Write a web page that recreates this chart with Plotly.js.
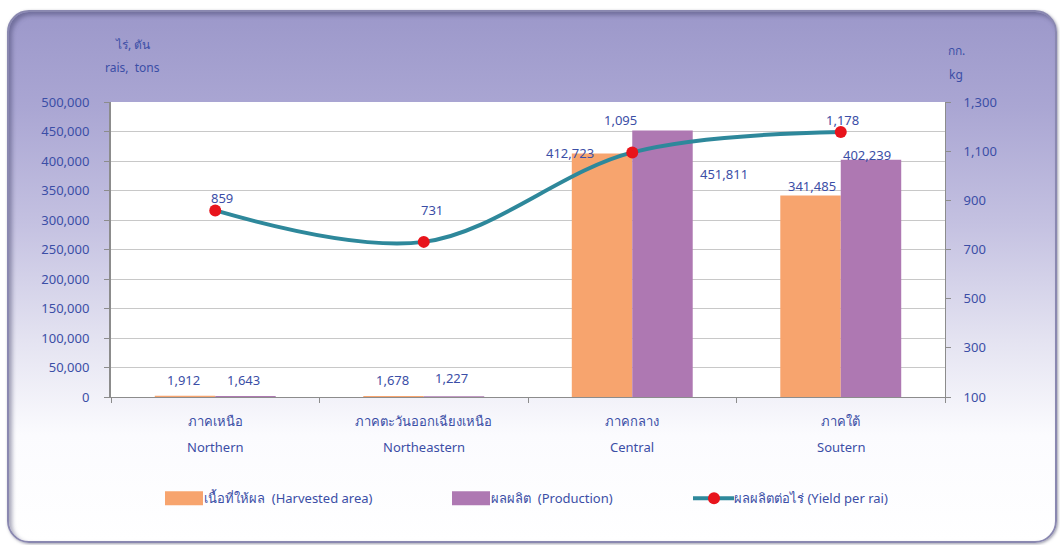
<!DOCTYPE html>
<html>
<head>
<meta charset="utf-8">
<script src="https://cdn.plot.ly/plotly-3.0.1.min.js"></script>
<style>
  html, body { margin: 0; padding: 0; width: 1060px; height: 545px; background: #ffffff; overflow: hidden; }
  #frame {
    position: absolute; left: 7px; top: 10px; width: 1046px; height: 529px;
    border-radius: 22px;
    border: 2px solid #8a88b0;
    background: linear-gradient(to bottom, #9c98ca 0%, #aaa6d3 18%, #c4c1e1 40%, #e4e3f1 62%, #fbfbfe 80%, #ffffff 100%);
    box-shadow: inset 3px 3px 4px rgba(60,60,100,0.45), 1px 1px 3px rgba(60,60,90,0.5);
  }
  #chart { position: absolute; left: 0; top: 0; width: 1060px; height: 545px; }
</style>
</head>
<body>
<div id="frame"></div>
<div id="chart"></div>
<script>
// ---- data ----
const categoriesThai = ['ภาคเหนือ', 'ภาคตะวันออกเฉียงเหนือ', 'ภาคกลาง', 'ภาคใต้'];
const categoriesEng = ['Northern', 'Northeastern', 'Central', 'Soutern'];
const harvestedArea = [1912, 1678, 412723, 341485];
const production = [1643, 1227, 451811, 402239];
const yieldPerRai = [859, 731, 1095, 1178];
const seriesNames = ['เนื้อที่ให้ผล  (Harvested area)', 'ผลผลิต  (Production)', 'ผลผลิตต่อไร่ (Yield per rai)'];

// ---- style ----
const FONT = 'Tahoma, "Noto Sans", "Liberation Sans", "DejaVu Sans", sans-serif';
const TXT = '#3b4ea6';
const fmt = v => v.toLocaleString('en-US');

// label offsets (pixels) relative to each mark
const harvOff = [[-32, 16], [-31, 16], [-62, 0], [-29, 10]];
const prodOff = [[28, 16], [28, 18], [92, -44], [26, 5]];
const yieldOff = [[7, 12], [8, 32], [-12, 32], [2, 12]];
// legend swatch left edges (px)
const legendLeft = [165, 452, 693];

const traces = [
  {
    type: 'bar', name: seriesNames[0], x: categoriesThai, y: harvestedArea,
    marker: { color: '#f7a46e' }, yaxis: 'y', hoverinfo: 'skip'
  },
  {
    type: 'bar', name: seriesNames[1], x: categoriesThai, y: production,
    marker: { color: '#ae78b2' }, yaxis: 'y', hoverinfo: 'skip'
  },
  {
    type: 'scatter', mode: 'lines+markers', name: seriesNames[2], x: categoriesThai, y: yieldPerRai,
    yaxis: 'y2', line: { color: '#2e889b', width: 4, shape: 'spline', smoothing: 1 },
    marker: { color: '#e8141c', size: 12 }, hoverinfo: 'skip'
  }
];

const annotations = [];
const labelFont = { family: FONT, size: 13, color: TXT };
categoriesThai.forEach((c, i) => {
  annotations.push({ x: c, y: harvestedArea[i], xref: 'x', yref: 'y', text: fmt(harvestedArea[i]),
    showarrow: false, xshift: harvOff[i][0], yshift: harvOff[i][1], yanchor: 'middle', font: labelFont });
  annotations.push({ x: c, y: production[i], xref: 'x', yref: 'y', text: fmt(production[i]),
    showarrow: false, xshift: prodOff[i][0], yshift: prodOff[i][1], yanchor: 'middle', font: labelFont });
  annotations.push({ x: c, y: yieldPerRai[i], xref: 'x', yref: 'y2', text: fmt(yieldPerRai[i]),
    showarrow: false, xshift: yieldOff[i][0], yshift: yieldOff[i][1], yanchor: 'middle', font: labelFont });
  annotations.push({ x: c, y: 0, xref: 'x', yref: 'paper', text: categoriesEng[i],
    showarrow: false, yshift: -50, yanchor: 'middle', font: labelFont });
});
// axis unit titles
annotations.push({ xref: 'paper', yref: 'paper', x: 0.026, y: 1.0, yshift: 58, text: 'ไร่, ตัน', showarrow: false,
  xanchor: 'center', yanchor: 'middle', font: { family: FONT, size: 12, color: TXT } });
annotations.push({ xref: 'paper', yref: 'paper', x: 0.026, y: 1.0, yshift: 35, text: 'rais,  tons', showarrow: false,
  xanchor: 'center', yanchor: 'middle', font: { family: FONT, size: 12, color: TXT } });
annotations.push({ xref: 'paper', yref: 'paper', x: 1.0, xshift: 11, y: 1.0, yshift: 52, text: 'กก.', showarrow: false,
  xanchor: 'center', yanchor: 'middle', font: { family: FONT, size: 12, color: TXT } });
annotations.push({ xref: 'paper', yref: 'paper', x: 1.0, xshift: 11, y: 1.0, yshift: 28, text: 'kg', showarrow: false,
  xanchor: 'center', yanchor: 'middle', font: { family: FONT, size: 12, color: TXT } });

const layout = {
  width: 1060, height: 545,
  margin: { l: 111, r: 115, t: 102, b: 148 },
  paper_bgcolor: 'rgba(0,0,0,0)',
  plot_bgcolor: '#ffffff',
  font: { family: FONT, size: 13, color: TXT },
  barmode: 'group', bargap: 0.42, bargroupgap: 0,
  showlegend: true,
  legend: {
    orientation: 'h', x: 0.05, xanchor: 'left', y: -0.343, yanchor: 'middle',
    bgcolor: 'rgba(0,0,0,0)', font: { family: FONT, size: 13, color: TXT },
    traceorder: 'normal', entrywidth: 215, entrywidthmode: 'pixels'
  },
  xaxis: {
    type: 'category', tickson: 'boundaries', ticks: 'outside', ticklen: 5, tickcolor: '#8c8c8c',
    showline: true, linecolor: '#8c8c8c', linewidth: 1, showgrid: false, zeroline: false,
    tickfont: { family: FONT, size: 13, color: TXT }, ticklabelstandoff: 12, fixedrange: true
  },
  yaxis: {
    range: [0, 500000], dtick: 50000, tickformat: ',d', ticks: 'outside', ticklen: 5, tickcolor: '#8c8c8c',
    showline: true, linecolor: '#8c8c8c', linewidth: 2, showgrid: true, gridcolor: '#c8c8c8', gridwidth: 1,
    zeroline: false, tickfont: { family: FONT, size: 13, color: TXT }, ticklabelstandoff: 12, fixedrange: true
  },
  yaxis2: {
    overlaying: 'y', side: 'right', range: [100, 1300], dtick: 200, tick0: 100, tickformat: ',d',
    ticks: 'outside', ticklen: 5, tickcolor: '#8c8c8c', showline: true, linecolor: '#8c8c8c', linewidth: 1,
    showgrid: false, zeroline: false, tickfont: { family: FONT, size: 13, color: TXT }, ticklabelstandoff: 10,
    fixedrange: true
  },
  annotations: annotations
};

Plotly.newPlot('chart', traces, layout, { displayModeBar: false, staticPlot: true }).then(gd => {
  // legend swatches styled like the reference: wide bar swatches and a longer line sample
  const items = gd.querySelectorAll('.legend .traces');
  items.forEach((g, i) => {
    const bar = g.querySelector('.legendpoints path.legendundefined, .legendpoints .legendbar path, .legendpoints path');
    const line = g.querySelector('.legendlines path');
    if (i < 2 && bar) bar.setAttribute('d', 'M19,7H-19V-7H19Z');
    if (i === 2 && line) line.setAttribute('d', 'M-1,0h41');
    const ref = (i === 2 && line) ? line : bar;
    if (!ref) return;
    const left = ref.getBoundingClientRect().left;
    const shift = legendLeft[i] - left;
    const tr = g.getAttribute('transform') || '';
    const m = tr.match(/translate\(\s*([-\d.]+)[ ,]+([-\d.]+)\s*\)/);
    const tx = m ? parseFloat(m[1]) : 0, ty = m ? parseFloat(m[2]) : 0;
    g.setAttribute('transform', 'translate(' + (tx + shift) + ',' + ty + ')');
  });
  const clip = gd.querySelector('.legend .scrollbox');
  if (clip) clip.removeAttribute('clip-path');
});
</script>
</body>
</html>
